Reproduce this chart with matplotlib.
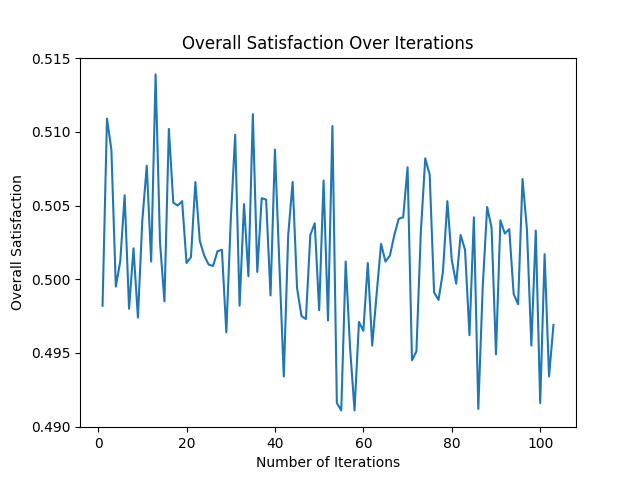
import matplotlib
matplotlib.use("Agg")
import matplotlib.pyplot as plt

# satisfaction value per iteration
iterations = list(range(1, 104))
satisfaction = [
    0.4982, 0.5109, 0.5088, 0.4995, 0.5012, 0.5057, 0.4980, 0.5021, 0.4974, 0.5040,
    0.5077, 0.5012, 0.5139, 0.5025, 0.4985, 0.5102, 0.5052, 0.5050, 0.5053, 0.5011,
    0.5015, 0.5066, 0.5026, 0.5016, 0.5010, 0.5009, 0.5019, 0.5020, 0.4964, 0.5040,
    0.5098, 0.4982, 0.5051, 0.5002, 0.5112, 0.5005, 0.5055, 0.5054, 0.4989, 0.5088,
    0.5010, 0.4934, 0.5030, 0.5066, 0.4994, 0.4975, 0.4973, 0.5030, 0.5038, 0.4979,
    0.5067, 0.4972, 0.5104, 0.4916, 0.4911, 0.5012, 0.4953, 0.4911, 0.4971, 0.4965,
    0.5011, 0.4955, 0.4990, 0.5024, 0.5012, 0.5016, 0.5030, 0.5041, 0.5042, 0.5076,
    0.4945, 0.4951, 0.5032, 0.5082, 0.5071, 0.4991, 0.4986, 0.5005, 0.5053, 0.5013,
    0.4997, 0.5030, 0.5020, 0.4962, 0.5042, 0.4912, 0.4995, 0.5049, 0.5035, 0.4949,
    0.5040, 0.5031, 0.5034, 0.4990, 0.4983, 0.5068, 0.5034, 0.4955, 0.5033, 0.4916,
    0.5017, 0.4934, 0.4969,
]

fig, ax = plt.subplots(figsize=(6.4, 4.8), dpi=100)
ax.plot(iterations, satisfaction)
ax.set_title("Overall Satisfaction Over Iterations")
ax.set_xlabel("Number of Iterations")
ax.set_ylabel("Overall Satisfaction")
fig.savefig("out.png")
